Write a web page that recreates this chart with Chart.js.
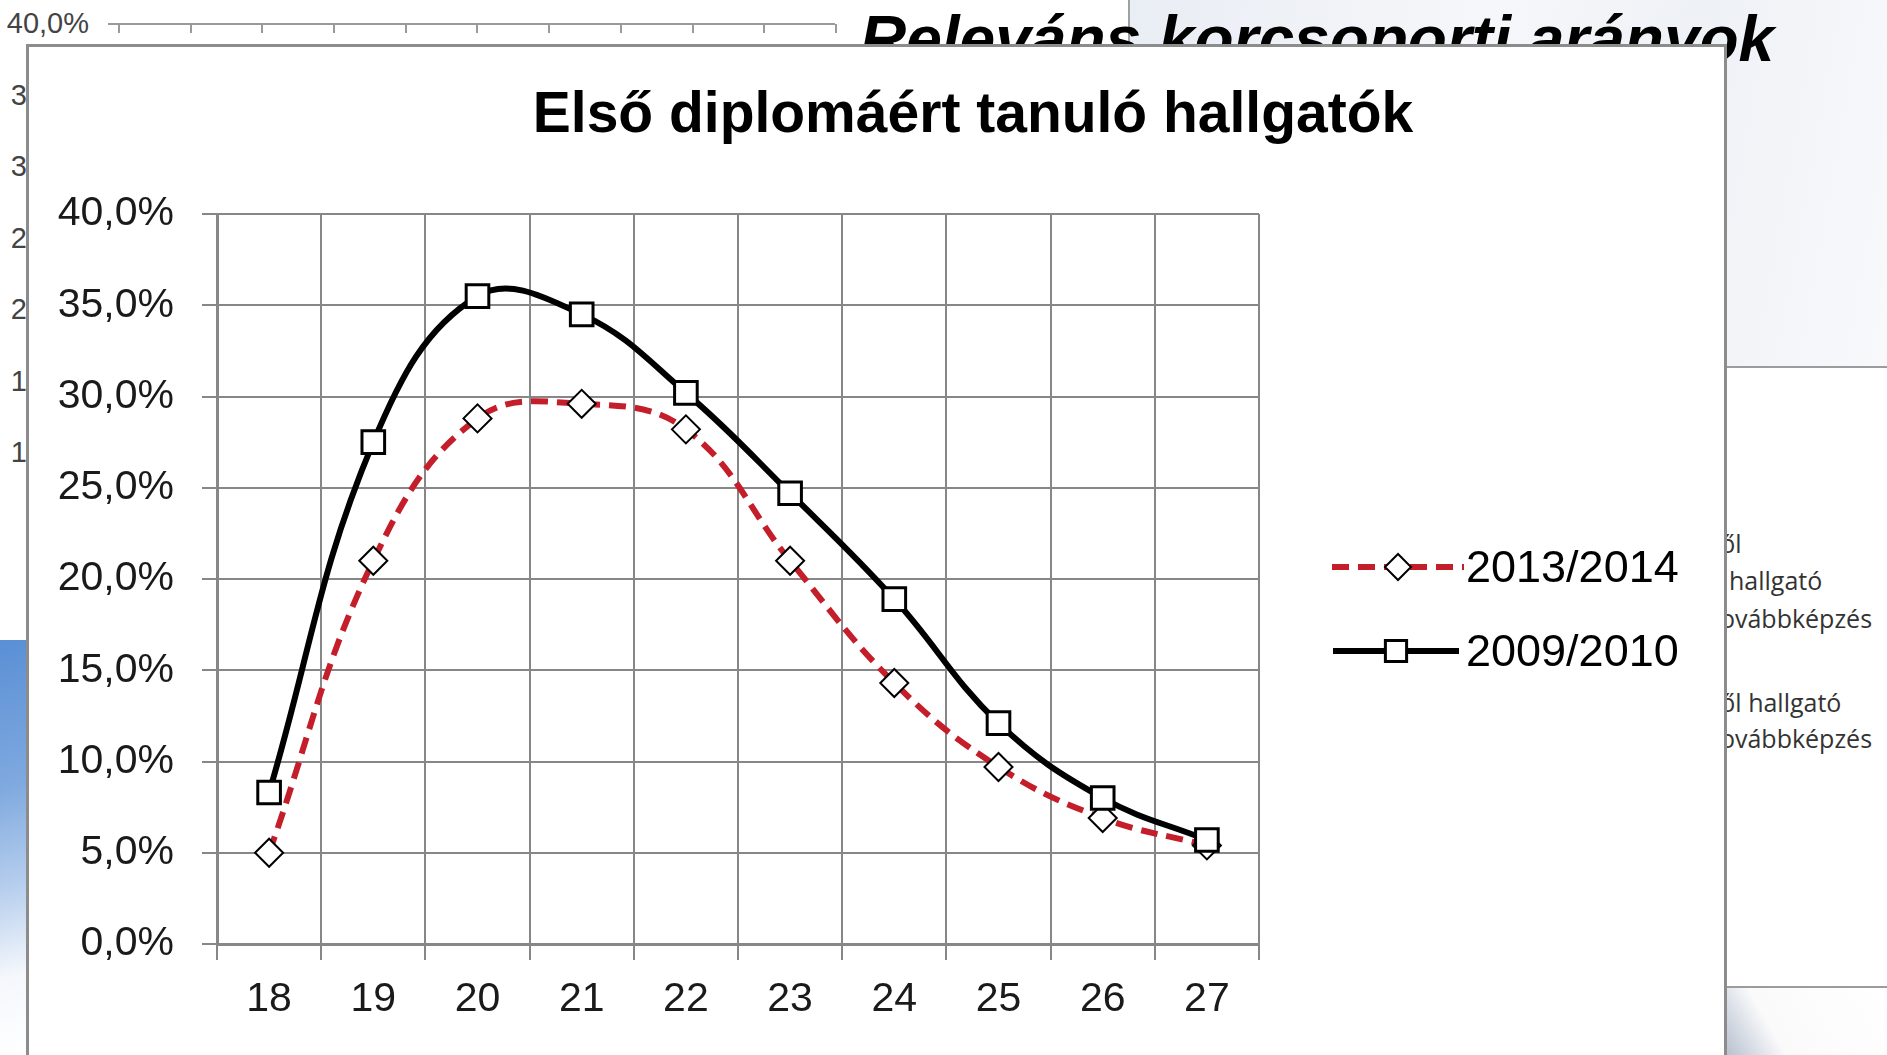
<!DOCTYPE html>
<html>
<head>
<meta charset="utf-8">
<script src="https://cdn.jsdelivr.net/npm/chart.js@4.4.1/dist/chart.umd.min.js"></script>
<style>
html,body{margin:0;padding:0;width:1887px;height:1055px;overflow:hidden;background:#fff;font-family:"Liberation Sans",Arial,sans-serif}
.abs{position:absolute}
/* slide behind the chart */
#slideTop{left:1128px;top:0;width:759px;height:367px;background:linear-gradient(100deg,#e9edf4 0%,#f6f7fa 45%,#eef1f6 70%,#f8f9fb 100%);border-left:2px solid #a0a0a0}
#slideLine1{left:1727px;top:366px;width:160px;height:2px;background:#9c9c9c}
#slideLine2{left:1727px;top:986px;width:160px;height:2px;background:#9c9c9c}
#slideBottom{left:1727px;top:988px;width:160px;height:67px;background:linear-gradient(60deg,#b9c2cf 0%,#dfe3ea 18%,#fafafb 30%,#fff 100%)}
#swoosh{left:0;top:640px;width:30px;height:415px;background:linear-gradient(165deg,#5a8fd5 0%,#7fa9df 35%,#b9d0ee 60%,#f4f7fc 80%,#fff 100%)}
#bigTitle{left:860px;top:7px;font:italic bold 64px/64px "Liberation Sans",Arial,sans-serif;color:#000;white-space:nowrap}
#backAxis{left:108px;top:23px;width:727px;height:2px;background:#9a9a9a}
#backTicks{left:118px;top:24px;width:722px;height:9px;background:repeating-linear-gradient(90deg,#9a9a9a 0 2px,transparent 2px 71.7px)}
.backLbl{position:absolute;left:0;text-align:right;font:29px/30px "Liberation Sans",Arial,sans-serif;color:#444}
.sideTxt{position:absolute;font:25px/30px "Open Sans",sans-serif;color:#333;white-space:nowrap}
#box{left:26px;top:44px;width:1701px;height:1100px;box-sizing:border-box;background:#fff;border:3px solid #8c8c8c;z-index:1}
#wrap{left:0;top:0;width:1887px;height:1055px;z-index:2}
#title{left:973px;top:84px;transform:translateX(-50%);font:bold 57px/57px "Liberation Sans",Arial,sans-serif;color:#000;white-space:nowrap;z-index:3}
.leg{position:absolute;z-index:3;height:46px}
.leg canvas{position:absolute;left:0;top:7px}
.leg span{position:absolute;font:45px/46px "Liberation Sans",Arial,sans-serif;color:#000;white-space:nowrap}
</style>
</head>
<body>
<div id="slideTop" class="abs"></div>
<div id="slideLine1" class="abs"></div>
<div id="slideLine2" class="abs"></div>
<div id="slideBottom" class="abs"></div>
<div id="swoosh" class="abs"></div>
<div id="bigTitle" class="abs">Releváns korcsoporti arányok</div>
<div id="backAxis" class="abs"></div>
<div id="backTicks" class="abs"></div>
<div id="backLabels"></div>
<div class="sideTxt" style="left:1705px;top:528px">ből</div>
<div class="sideTxt" style="left:1729px;top:565px">hallgató</div>
<div class="sideTxt" style="left:1711px;top:603px">továbbképzés</div>
<div class="sideTxt" style="left:1705px;top:687px">ből hallgató</div>
<div class="sideTxt" style="left:1711px;top:723px">továbbképzés</div>

<div id="box" class="abs"></div>
<div id="wrap" class="abs"><canvas id="chart" width="1887" height="1055"></canvas></div>
<div id="title" class="abs">Első diplomáért tanuló hallgatók</div>
<div id="legend"></div>

<script>
/* ------------ data ------------ */
const AGES    = ['18','19','20','21','22','23','24','25','26','27'];
const NAMES   = ['2013/2014','2009/2010'];
const S_2013  = [5.0, 21.0, 28.8, 29.6, 28.2, 21.0, 14.3, 9.7, 6.9, 5.4];
const S_2009  = [8.3, 27.5, 35.5, 34.5, 30.2, 24.7, 18.9, 12.1, 8.0, 5.7];
const Y_MIN = 0, Y_MAX = 40, Y_STEP = 5;
const BACK_TICKS = [40,35,30,25,20,15,10,5,0];   // axis of the chart behind

/* ------------ styles ------------ */
const FONT  = '"Liberation Sans", Arial, sans-serif';
const GRID  = '#878787';
const RED   = '#c41e2b';
const fmt   = v => v.toFixed(1).replace('.', ',') + '%';

const STYLE = [
  {color:RED,    dash:[17,9], point:'rectRot', radius:14, pBorder:2, order:1},
  {color:'#000', dash:[],     point:'rect',    radius:16, pBorder:3, order:0}
];

/* ------------ background labels ------------ */
document.getElementById('backLabels').innerHTML = BACK_TICKS.map((t,i)=>
  `<div class="backLbl" style="top:${8+i*71.5}px;width:${i ? 93 : 89}px">${fmt(t)}</div>`).join('');

/* ------------ chart ------------ */
const datasets = [S_2013, S_2009].map((d,i)=>({
  label: NAMES[i], data: d,
  borderColor: STYLE[i].color, borderWidth: 6, borderDash: STYLE[i].dash,
  tension: .4, fill: false, order: STYLE[i].order,
  pointStyle: STYLE[i].point, pointRadius: STYLE[i].radius, pointHoverRadius: STYLE[i].radius,
  pointBorderWidth: STYLE[i].pBorder, pointBorderColor: '#000', pointBackgroundColor: '#fff',
  clip: false
}));

new Chart(document.getElementById('chart'), {
  type: 'line',
  data: {labels: AGES, datasets},
  options: {
    responsive: false, animation: false, devicePixelRatio: 1, events: [],
    layout: {padding: {left: 0, top: 214, right: 628, bottom: 0}},
    plugins: {legend: {display: false}, title: {display: false}, tooltip: {enabled: false}},
    scales: {
      x: {
        offset: true,
        grid: {offset: true, color: GRID, lineWidth: 2, tickLength: 16},
        border: {color: GRID, width: 3},
        ticks: {font: {size: 41, family: FONT}, color: '#1a1a1a', padding: 15, maxRotation: 0},
        afterFit: s => { s.height = 111; }
      },
      y: {
        min: Y_MIN, max: Y_MAX,
        grid: {color: GRID, lineWidth: 2, tickLength: 15},
        border: {color: GRID, width: 3},
        ticks: {stepSize: Y_STEP, callback: fmt, font: {size: 41, family: FONT}, color: '#1a1a1a', padding: 28},
        afterFit: s => { s.width = 217; }
      }
    }
  }
});

/* ------------ legend (line + marker, like the original) ------------ */
const LEG = [{x:1332, y:567, w:132, tx:134}, {x:1333, y:651, w:126, tx:133}];
const legEl = document.getElementById('legend');
NAMES.forEach((name,i)=>{
  const L = LEG[i], st = STYLE[i];
  const item = document.createElement('div');
  item.className = 'leg';
  item.style.left = L.x + 'px'; item.style.top = (L.y - 23) + 'px';
  const c = document.createElement('canvas'); c.width = L.w; c.height = 32;
  const g = c.getContext('2d');
  g.strokeStyle = st.color; g.lineWidth = 6; g.setLineDash(st.dash);
  g.beginPath(); g.moveTo(0,16); g.lineTo(L.w,16); g.stroke();
  g.setLineDash([]);
  g.fillStyle = '#fff'; g.strokeStyle = '#000'; g.lineWidth = st.pBorder;
  Chart.helpers.drawPoint(g, {pointStyle: st.point, radius: st.radius - 1, borderWidth: st.pBorder}, L.w/2, 16);
  const t = document.createElement('span'); t.textContent = name; t.style.left = L.tx + 'px';
  item.appendChild(c); item.appendChild(t); legEl.appendChild(item);
});
</script>
</body>
</html>
